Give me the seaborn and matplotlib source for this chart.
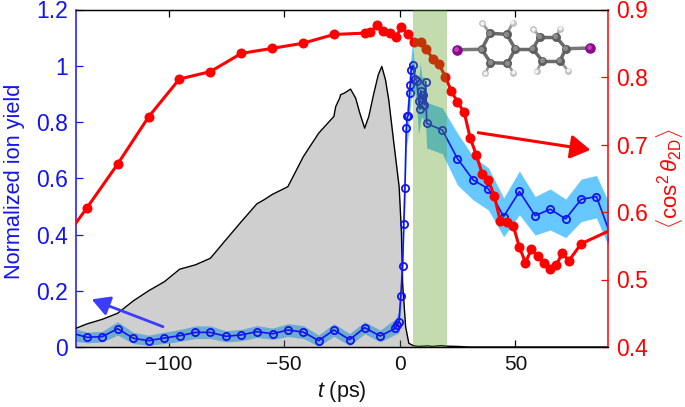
# Alignment revival: ion yield and cos^2 theta vs delay
import pandas as pd
import matplotlib
matplotlib.use("Agg")
import matplotlib.pyplot as plt
import seaborn as sns

# --------------------------------------------------------------
# Data
# --------------------------------------------------------------
red_t = [-148.7, -135.3, -122, -108.6, -95.3, -81.9, -68.5, -55.1, -41.9, -28.5, -15.2, -12.7,
         -9.8, -7.2, -4.3, -1.7, 0.7, 3.6, 6.2, 9.1, 11.5, 14.4, 17, 19.7, 22.3, 24.9, 27.8,
         30.4, 33, 35.7, 38.3, 40.9, 43.5, 46.4, 49, 51.7, 54.3, 56.9, 59.6, 62.4, 65, 67.7,
         70.3, 73, 78.4, 92]
red_v = [0.543, 0.606, 0.671, 0.741, 0.797, 0.808, 0.835, 0.8425, 0.850, 0.863, 0.865, 0.867,
         0.8766, 0.868, 0.865, 0.859, 0.874, 0.8637, 0.852, 0.852, 0.841, 0.826, 0.819, 0.800,
         0.779, 0.763, 0.748, 0.710, 0.685, 0.656, 0.647, 0.623, 0.586, 0.585, 0.580, 0.548,
         0.525, 0.545, 0.535, 0.525, 0.515, 0.5215, 0.540, 0.5274, 0.553, 0.5745]

blue_t = [-142, -135.3, -128.6, -122, -115.2, -108.6, -101.8, -95.2, -88.4, -81.9, -75.2, -68.5,
          -61.8, -55, -48.4, -41.7, -35.1, -28.5, -21.7, -15.2, -8.5, -1.9, -1.1, -0.4, 0.4, 1.2,
          1.7, 2.2, 2.8, 3.2, 3.6, 4.2, 4.5, 4.9, 5.8, 6.6, 7.3, 8.6, 8.5, 9.1, 9.5, 9.9, 10.6,
          11.2, 11.6, 18.4, 24.9, 31.7, 38.3, 44.9, 51.7, 58.5, 65, 71.7, 78.4, 85, 91.7]
blue_v = [0.05, 0.0345, 0.037, 0.065, 0.031, 0.0225, 0.032, 0.040, 0.052, 0.052, 0.038, 0.043,
          0.0545, 0.047, 0.0605, 0.053, 0.0225, 0.0605, 0.026, 0.0687, 0.039, 0.0665, 0.078, 0.089,
          0.18, 0.289, 0.438, 0.566, 0.777, 0.82, 0.822, 0.903, 0.932, 0.986, 1.001, 0.953, 0.947,
          0.846, 0.873, 0.912, 0.885, 0.897, 0.861, 0.944, 0.795, 0.771, 0.670, 0.594, 0.562,
          0.464, 0.553, 0.467, 0.490, 0.4555, 0.525, 0.535, 0.385]

band_t = [-140, -135.3, -128.6, -122, -115.2, -108.6, -101.8, -95.2, -88.4, -81.9, -75.2, -68.5,
          -61.8, -55, -48.4, -41.7, -35.1, -28.5, -21.7, -15.2, -8.5, -1.9, -0.4, 0.4, 1.2, 1.7,
          2.2, 2.8, 3.6, 4.2, 5.4, 6.6, 7.3, 8.1, 8.9, 9.5, 10.6, 11.2, 11.6, 18.4, 24.9, 31.7,
          38.3, 44.9, 51.7, 58.5, 65, 71.7, 78.4, 85, 91.7]
band_hi = [0.064, 0.053, 0.056, 0.09, 0.052, 0.042, 0.053, 0.062, 0.075, 0.075, 0.058, 0.063,
           0.076, 0.067, 0.083, 0.076, 0.043, 0.083, 0.048, 0.09, 0.06, 0.10, 0.125, 0.22, 0.33,
           0.50, 0.63, 0.84, 0.90, 0.98, 1.08, 0.98, 0.96, 0.95, 1.01, 0.96, 0.96, 0.90, 0.87,
           0.85, 0.76, 0.677, 0.637, 0.53, 0.626, 0.535, 0.562, 0.526, 0.597, 0.61, 0.49]
band_lo = [0.02, 0.015, 0.018, 0.042, 0.012, 0.006, 0.012, 0.02, 0.03, 0.03, 0.018, 0.022,
           0.034, 0.027, 0.037, 0.03, 0.003, 0.038, 0.005, 0.047, 0.018, 0.045, 0.05, 0.14, 0.25,
           0.38, 0.50, 0.71, 0.75, 0.83, 0.92, 0.90, 0.85, 0.755, 0.80, 0.82, 0.80, 0.78, 0.708,
           0.687, 0.576, 0.523, 0.487, 0.392, 0.47, 0.398, 0.416, 0.389, 0.446, 0.459, 0.33]

gray_t = [-140, -135.3, -128.6, -122, -115.2, -108.6, -101.8, -95.2, -88.4, -81.9, -75.2, -68.5,
          -61.8, -58.8, -55, -48.4, -41.7, -35.1, -28.5, -27.7, -26, -25.6, -23.9, -21.3, -19.1,
          -17.3, -15.2, -13.4, -11.2, -9.3, -7.8, -6.2, -4.8, -2.6, -0.3, 0, 0.7, 1.2, 2.5, 3.9,
          5.9, 8, 12, 14, 18, 20, 25, 30, 90]
gray_v = [0.0665, 0.082, 0.0985, 0.12, 0.164, 0.2, 0.232, 0.2765, 0.292, 0.3155, 0.381, 0.446,
          0.509, 0.523, 0.543, 0.57, 0.677, 0.76, 0.82, 0.855, 0.885, 0.897, 0.903, 0.917, 0.885,
          0.8317, 0.778, 0.82, 0.903, 0.968, 0.9975, 0.95, 0.879, 0.726, 0.57, 0.523, 0.405, 0.227,
          0.072, 0.013, 0.0046, 0.002, 0.004, 0.002, 0.005, 0.003, 0.002, 0.0, 0.0]

left_ticks = [0, 0.2, 0.4, 0.6, 0.8, 1, 1.2]
left_labels = ["0", "0.2", "0.4", "0.6", "0.8", "1", "1.2"]
right_ticks = [0.4, 0.5, 0.6, 0.7, 0.8, 0.9]
x_ticks = [-100, -50, 0, 50]
x_labels = ["\u2212100", "\u221250", "0", "50"]

# molecule inset, picture pixels
iodine = [(456.7, 49.7), (590, 48)]
carbon = [(481.7, 49.3), (490, 33.3), (506.7, 34.3), (515.3, 49), (507.5, 63.3), (490.5, 62.7),
          (532.7, 49), (540, 36.7), (556, 36.7), (566, 48.7), (560, 60.7), (542.3, 60.7)]
hydrogen = [(482.3, 23), (512.7, 22.7), (485.3, 73.3), (513.3, 72.7),
            (533.3, 29.3), (560.3, 28.7), (536.7, 71.3), (568, 70.7)]
bonds = [(0, 1), (1, 2), (2, 3), (3, 4), (4, 5), (5, 0), (3, 6), (6, 7), (7, 8), (8, 9), (9, 10),
         (10, 11), (11, 6)]
iodine_bonds = [(0, 0), (1, 9)]
hydrogen_bonds = [(0, 1), (1, 2), (2, 5), (3, 4), (4, 7), (5, 8), (6, 11), (7, 10)]

# --------------------------------------------------------------
# Style
# --------------------------------------------------------------
sns.set_style("ticks")
plt.rcParams["font.family"] = ["Liberation Sans", "DejaVu Sans"]
plt.rcParams["mathtext.fontset"] = "custom"
plt.rcParams["mathtext.rm"] = "Liberation Sans"
plt.rcParams["mathtext.it"] = "Liberation Sans:italic"
plt.rcParams["mathtext.fallback"] = "cm"

BLUE = "#1414f0"
RED = "#ff0000"
W, H = 685, 407

fig = plt.figure(figsize=(6.85, 4.07), dpi=100)
ax = fig.add_axes([76 / W, 1 - 347 / H, 532 / W, 337.5 / H])
ax2 = ax.twinx()

# --------------------------------------------------------------
# Left axis: band, laser trace, ion yield
# --------------------------------------------------------------
ax.fill_between(band_t, band_lo, band_hi, color="#66c8ff", lw=0, zorder=1)
ax.fill_between(gray_t, 0, gray_v, color="#787878", alpha=0.35, lw=0, zorder=2)
ax.plot(gray_t, gray_v, color="black", lw=1.0, zorder=3)

blue_df = pd.DataFrame({"t": blue_t, "v": blue_v})
sns.lineplot(data=blue_df, x="t", y="v", ax=ax, color=BLUE, lw=1.2, sort=False, estimator=None,
             marker="o", ms=5.2, mfc="none", mec=BLUE, mew=1.3, zorder=4)

ax.set_xlim(-140, 90)
ax.set_ylim(0, 1.2)
ax.set_xticks(x_ticks)
ax.set_xticklabels(x_labels)
ax.set_yticks(left_ticks)
ax.set_yticklabels(left_labels)
ax.tick_params(axis="x", direction="in", top=True, length=5, width=0.9, color="black",
               labelsize=15, pad=6, labelcolor="#111111")
ax.tick_params(axis="y", direction="in", length=5, width=0.9, color=BLUE, labelsize=16.5,
               labelcolor=BLUE, pad=6)
ax.set_xlabel(r"$t$ (ps)", fontsize=15.5, color="#111111", labelpad=3)
ax.set_ylabel("Normalized ion yield", fontsize=15.7, color=BLUE, labelpad=8, y=0.49)

ax.annotate("", xy=(-133.2, 0.1694), xytext=(-102.4, 0.0722), zorder=6,
            arrowprops=dict(arrowstyle="-|>,head_length=0.9,head_width=0.5", color="#3c3cff",
                            lw=2, shrinkA=0, shrinkB=0, mutation_scale=12))

# --------------------------------------------------------------
# Right axis: alignment and pulse window
# --------------------------------------------------------------
red_df = pd.DataFrame({"t": red_t, "v": red_v})
sns.lineplot(data=red_df, x="t", y="v", ax=ax2, color=RED, lw=2.2, sort=False, estimator=None,
             marker="o", ms=7.2, mfc=RED, mec=RED, mew=0, zorder=3)
ax2.axvspan(5.8, 20.2, color="#539a1a", alpha=0.35, lw=0, zorder=5)

ax2.set_xlim(-140, 90)
ax2.set_ylim(0.4, 0.9)
ax2.set_yticks(right_ticks)
ax2.set_yticklabels([f"{v:.1f}" for v in right_ticks])
ax2.tick_params(axis="y", direction="in", length=5, width=0.9, color=RED, labelsize=16.5,
                labelcolor=RED, pad=6)
ax2.set_ylabel(r"$\langle\cos^2\theta_{\mathrm{2D}}\rangle$", fontsize=16, color=RED, labelpad=4)
ax2.yaxis.set_label_position("right")

ax2.annotate("", xy=(82.4, 0.692), xytext=(33.9, 0.7175), zorder=6,
             arrowprops=dict(arrowstyle="-|>,head_length=1.0,head_width=0.6", color=RED,
                             lw=2.2, shrinkA=0, shrinkB=0, mutation_scale=12))

sns.despine(ax=ax, top=False, right=True)
for a in (ax, ax2):
    a.spines["top"].set_color("black")
    a.spines["bottom"].set_color("black")
    a.spines["top"].set_linewidth(0.9)
    a.spines["bottom"].set_linewidth(0.9)
ax2.spines["left"].set_visible(False)
ax.spines["left"].set_color(BLUE)
ax.spines["left"].set_linewidth(1.1)
ax.spines["left"].set_visible(True)
ax2.spines["right"].set_visible(True)
ax2.spines["right"].set_color(RED)
ax2.spines["right"].set_linewidth(1.1)

# --------------------------------------------------------------
# Molecule inset (drawn in pixel space on a transparent overlay)
# --------------------------------------------------------------
mol = fig.add_axes([0, 0, 1, 1], zorder=10)
mol.set_xlim(0, W)
mol.set_ylim(H, 0)
mol.axis("off")
for i, j in bonds:
    mol.plot([carbon[i][0], carbon[j][0]], [carbon[i][1], carbon[j][1]], color="#6a6a6a", lw=2.5,
             solid_capstyle="round", zorder=1)
for i, j in iodine_bonds:
    mol.plot([iodine[i][0], carbon[j][0]], [iodine[i][1], carbon[j][1]], color="#777777", lw=2.5,
             zorder=1)
for i, j in hydrogen_bonds:
    mol.plot([hydrogen[i][0], carbon[j][0]], [hydrogen[i][1], carbon[j][1]], color="#999999", lw=2,
             zorder=1)
cx, cy = zip(*carbon)
mol.scatter(cx, cy, s=42, color="#5e5e5e", lw=0, zorder=2)
mol.scatter([x - 0.7 for x in cx], [y - 0.8 for y in cy], s=14, color="#8c8c8c", lw=0, zorder=3)
hx, hy = zip(*hydrogen)
mol.scatter(hx, hy, s=24, color="#bdbdbd", lw=0, zorder=2)
mol.scatter([x - 0.4 for x in hx], [y - 0.4 for y in hy], s=9, color="#f2f2f2", lw=0, zorder=3)
ix, iy = zip(*iodine)
mol.scatter(ix, iy, s=58, color="#8a0a8a", lw=0, zorder=2)
mol.scatter([x - 0.8 for x in ix], [y - 0.8 for y in iy], s=12, color="#c040c0", lw=0, zorder=3)

fig.savefig("out.png", dpi=100)
